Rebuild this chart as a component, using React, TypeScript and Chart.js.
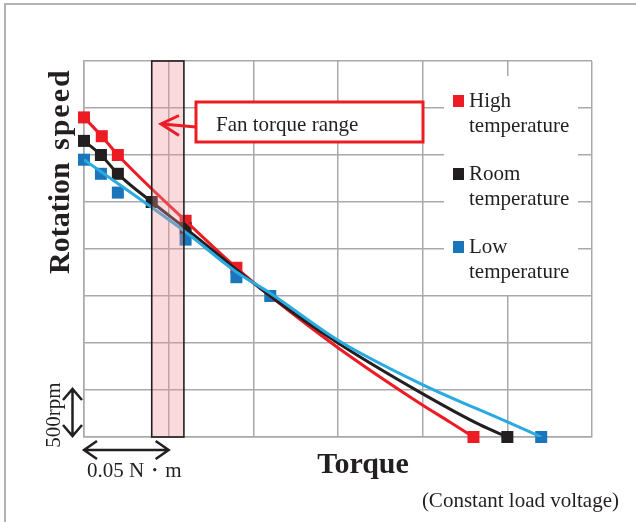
import React, { useEffect, useRef } from "react";
import { Chart, registerables } from "chart.js";

Chart.register(...registerables);

// Torque (N·m) / rotation speed (rpm) measurements
const seriesNames = ["High", "Room", "Low"];
const legendSecondLine = "temperature";

const highTorque = [0, 0.0105, 0.02, 0.06, 0.09, 0.23];
const highRpm = [3400, 3200, 3000, 2300, 1800, 0];
const roomTorque = [0, 0.01, 0.02, 0.04, 0.06, 0.25];
const roomRpm = [3150, 3000, 2800, 2500, 2220, 0];
const lowTorque = [0, 0.01, 0.02, 0.06, 0.09, 0.11, 0.27];
const lowRpm = [2950, 2800, 2600, 2100, 1700, 1500, 0];

// Fitted characteristic curves
const highCurveTorque = [0, 0.0105, 0.02, 0.06, 0.09, 0.11, 0.15, 0.198, 0.216, 0.23];
const highCurveRpm = [3400, 3200, 3000, 2300, 1800, 1500, 950, 362, 160, 0];
const roomCurveTorque = [0, 0.01, 0.02, 0.04, 0.06, 0.11, 0.15, 0.198, 0.234, 0.25];
const roomCurveRpm = [3150, 3000, 2800, 2500, 2220, 1500, 1000, 480, 128, 0];
const lowCurveTorque = [0, 0.06, 0.09, 0.11, 0.15, 0.198, 0.25, 0.27];
const lowCurveRpm = [2950, 2180, 1755, 1530, 1030, 574, 160, 0];

// Axis extents and grid steps
const torqueMax = 0.3;
const torqueStep = 0.05;
const rpmMax = 4000;
const rpmStep = 500;

// Fan torque range (N·m)
const fanBand = [0.04, 0.059];

const RED = "#ed1c24";
const BLACK = "#231f20";
const BLUE_MARK = "#1b75bb";
const BLUE_LINE = "#29abe2";
const GRID = "#a7a9ac";
const SERIF = "'Liberation Serif', 'Times New Roman', serif";

const pts = (xs: number[], ys: number[]) => xs.map((x, i) => ({ x, y: ys[i] }));

const overlay = {
  id: "overlay",
  afterDatasetsDraw(chart: any) {
    const { ctx, chartArea: a, scales } = chart;
    const x0 = scales.x.getPixelForValue(fanBand[0]);
    const x1 = scales.x.getPixelForValue(fanBand[1]);
    ctx.save();
    ctx.fillStyle = "rgba(240,150,155,0.35)";
    ctx.fillRect(x0, a.top, x1 - x0, a.bottom - a.top);
    ctx.strokeStyle = BLACK;
    ctx.lineWidth = 1.6;
    ctx.strokeRect(x0, a.top, x1 - x0, a.bottom - a.top);
    ctx.restore();
  },
  afterDraw(chart: any) {
    const { ctx, chartArea: a, scales } = chart;
    const xs = scales.x;
    const ys = scales.y;
    ctx.save();

    // outer frame
    ctx.strokeStyle = "#b1b3b6";
    ctx.lineWidth = 2;
    ctx.beginPath();
    ctx.moveTo(5, 530);
    ctx.lineTo(5, 4);
    ctx.lineTo(640, 4);
    ctx.stroke();

    // legend panel
    const lx = a.right - 148;
    const ly = a.top + 15;
    ctx.fillStyle = "#ffffff";
    ctx.fillRect(lx, ly, 134, 219);
    const colors = [RED, BLACK, BLUE_MARK];
    const rowTop = [95, 168, 241];
    ctx.font = `21px ${SERIF}`;
    ctx.textAlign = "left";
    ctx.textBaseline = "alphabetic";
    seriesNames.forEach((name, i) => {
      ctx.fillStyle = colors[i];
      ctx.fillRect(lx + 9, rowTop[i], 11, 12);
      ctx.fillStyle = BLACK;
      ctx.fillText(name, lx + 25, rowTop[i] + 12);
      ctx.fillText(legendSecondLine, lx + 25, rowTop[i] + 37);
    });

    // callout box
    ctx.fillStyle = "#ffffff";
    ctx.fillRect(196, 102, 227, 40);
    ctx.strokeStyle = RED;
    ctx.lineWidth = 3;
    ctx.strokeRect(196, 102, 227, 40);
    ctx.fillStyle = BLACK;
    ctx.fillText("Fan torque range", 216, 131);
    ctx.strokeStyle = RED;
    ctx.beginPath();
    ctx.moveTo(196, 127);
    ctx.lineTo(162, 124);
    ctx.stroke();
    ctx.beginPath();
    ctx.moveTo(179, 115.5);
    ctx.lineTo(161, 124);
    ctx.lineTo(179, 135.5);
    ctx.stroke();

    // scale arrows
    ctx.strokeStyle = BLACK;
    ctx.lineWidth = 2.5;
    const ax = 72.5;
    const yTop = ys.getPixelForValue(rpmStep) - 1;
    const yBot = ys.getPixelForValue(0) - 1;
    ctx.beginPath();
    ctx.moveTo(ax, yTop);
    ctx.lineTo(ax, yBot);
    ctx.moveTo(ax - 9.5, yTop + 11);
    ctx.lineTo(ax, yTop);
    ctx.lineTo(ax + 9.5, yTop + 11);
    ctx.moveTo(ax - 9.5, yBot - 11);
    ctx.lineTo(ax, yBot);
    ctx.lineTo(ax + 9.5, yBot - 11);
    ctx.stroke();

    const hy = 450;
    const xL = xs.getPixelForValue(0);
    const xR = xs.getPixelForValue(torqueStep);
    ctx.beginPath();
    ctx.moveTo(xL, hy);
    ctx.lineTo(xR, hy);
    ctx.moveTo(xL + 13, hy - 9);
    ctx.lineTo(xL, hy);
    ctx.lineTo(xL + 13, hy + 9);
    ctx.moveTo(xR - 13, hy - 9);
    ctx.lineTo(xR, hy);
    ctx.lineTo(xR - 13, hy + 9);
    ctx.stroke();

    ctx.fillStyle = BLACK;
    ctx.font = `21px ${SERIF}`;
    ctx.fillText("0.05 N・m", 87, 477);

    ctx.save();
    ctx.translate(60, 415);
    ctx.rotate(-Math.PI / 2);
    ctx.textAlign = "center";
    ctx.fillText("500rpm", 0, 0);
    ctx.restore();

    // axis titles
    ctx.font = `bold 30px ${SERIF}`;
    ctx.textAlign = "center";
    ctx.fillText("Torque", 363, 473);

    ctx.save();
    ctx.translate(69, 274);
    ctx.rotate(-Math.PI / 2);
    ctx.textAlign = "left";
    ctx.fillText("Rotation", 0, 0);
    ctx.letterSpacing = "2px";
    ctx.fillText("speed", 124, 0);
    ctx.restore();

    ctx.letterSpacing = "0px";
    ctx.font = `21px ${SERIF}`;
    ctx.textAlign = "right";
    ctx.fillText("(Constant load voltage)", 619, 507);

    ctx.restore();
  },
};

export default function App() {
  const ref = useRef<HTMLCanvasElement | null>(null);

  useEffect(() => {
    if (!ref.current) return;
    const curve = (data: any, color: string, order: number) => ({
      data,
      showLine: true,
      borderColor: color,
      borderWidth: 3,
      pointRadius: 0,
      cubicInterpolationMode: "monotone",
      order,
    });
    const marks = (data: any, color: string, order: number) => ({
      data,
      showLine: false,
      pointStyle: "rect",
      pointRadius: 8.5,
      pointBorderWidth: 0,
      backgroundColor: color,
      borderColor: color,
      clip: false,
      order,
    });
    const chart = new Chart(ref.current, {
      type: "scatter",
      data: {
        datasets: [
          curve(pts(lowCurveTorque, lowCurveRpm), BLUE_LINE, 1),
          curve(pts(roomCurveTorque, roomCurveRpm), BLACK, 2),
          curve(pts(highCurveTorque, highCurveRpm), RED, 3),
          marks(pts(lowTorque, lowRpm), BLUE_MARK, 4),
          marks(pts(roomTorque, roomRpm), BLACK, 5),
          marks(pts(highTorque, highRpm), RED, 6),
        ] as any,
      },
      options: {
        animation: false,
        responsive: false,
        maintainAspectRatio: false,
        events: [],
        layout: { padding: { left: 84, top: 61, right: 44, bottom: 85 } },
        plugins: { legend: { display: false }, tooltip: { enabled: false } },
        scales: {
          x: {
            type: "linear",
            min: 0,
            max: torqueMax,
            ticks: { display: false, stepSize: torqueStep },
            grid: { color: GRID, lineWidth: 1.5, drawTicks: false },
            border: { color: GRID, width: 1.5 },
          },
          y: {
            type: "linear",
            min: 0,
            max: rpmMax,
            ticks: { display: false, stepSize: rpmStep },
            grid: { color: GRID, lineWidth: 1.5, drawTicks: false },
            border: { color: GRID, width: 1.5 },
          },
        },
      },
      plugins: [overlay],
    });
    return () => chart.destroy();
  }, []);

  return (
    <div style={{ position: "fixed", left: 0, top: 0, width: 636, height: 522, background: "#fff" }}>
      <canvas ref={ref} width={636} height={522} />
    </div>
  );
}
